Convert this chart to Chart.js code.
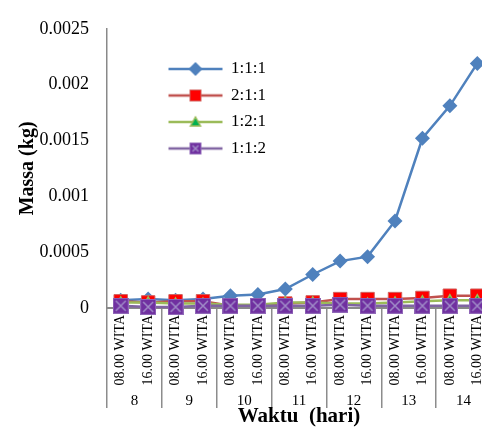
<!DOCTYPE html>
<html>
<head>
<meta charset="utf-8">
<script src="https://cdn.jsdelivr.net/npm/chart.js@4/dist/chart.umd.min.js"></script>
<style>
html,body{margin:0;padding:0;background:#fff;overflow:hidden;width:482px;height:427px}
</style>
</head>
<body>
<canvas id="mychart" width="500" height="427"></canvas>
<script>
// category labels
var jam  = ["08.00 WITA","16.00 WITA","08.00 WITA","16.00 WITA","08.00 WITA","16.00 WITA","08.00 WITA",
            "16.00 WITA","08.00 WITA","16.00 WITA","08.00 WITA","16.00 WITA","08.00 WITA","16.00 WITA"]
var hari = ["8","9","10","11","12","13","14"]

// series (kg)
var s111 = [0.00007,0.00008,0.00007,0.00008,0.00011,0.00012,0.00017,0.0003,0.00042,0.00046,0.00078,0.00152,0.00181,0.00219]
var s211 = [0.00006,0.00005,0.00006,0.00006,0.00002,0.00002,0.00004,0.00005,0.00008,0.00008,0.00008,0.00009,0.00011,0.00011]
var s121 = [0.00005,0.00005,0.00004,0.00004,0.00003,0.00003,0.00005,0.00005,0.00004,0.00004,0.00005,0.00006,0.00007,0.00007]
var s112 = [0.00002,0.00001,0.00001,0.00002,0.00002,0.00002,0.00002,0.00002,0.00003,0.00002,0.00002,0.00002,0.00002,0.00002]

var yMax = 0.0025
var yStep = 0.0005

var serif = "'Liberation Serif','Times New Roman',serif"

// purple square with a cross
function boxCross(size){
    var c = document.createElement('canvas')
    c.width = size; c.height = size
    var g = c.getContext('2d')
    g.fillStyle = '#7030A0'
    g.fillRect(0,0,size,size)
    g.strokeStyle = '#9068B8'
    g.lineWidth = 1
    g.strokeRect(0.5,0.5,size-1,size-1)
    g.strokeStyle = '#A08CC8'
    g.lineWidth = 1.5
    g.beginPath()
    g.moveTo(3,3); g.lineTo(size-3,size-3)
    g.moveTo(size-3,3); g.lineTo(3,size-3)
    g.stroke()
    return c
}

// legend sample: line with the marker in the middle
function legendIcon(color, kind){
    var c = document.createElement('canvas')
    c.width = 56; c.height = 16
    var g = c.getContext('2d')
    g.strokeStyle = color
    g.lineWidth = 2.5
    g.beginPath(); g.moveTo(1,8); g.lineTo(55,8); g.stroke()
    var x = 28, y = 8
    if(kind=='diamond'){
        g.fillStyle = '#4F81BD'
        g.beginPath(); g.moveTo(x,y-7); g.lineTo(x+7,y); g.lineTo(x,y+7); g.lineTo(x-7,y); g.closePath(); g.fill()
    } else if(kind=='square'){
        g.fillStyle = '#FF0000'
        g.fillRect(x-6,y-6,12,12)
        g.strokeStyle = '#D0605D'; g.lineWidth = 1
        g.strokeRect(x-5.5,y-5.5,11,11)
    } else if(kind=='triangle'){
        g.fillStyle = '#00B050'
        g.strokeStyle = '#9BBB59'; g.lineWidth = 1.5
        g.beginPath(); g.moveTo(x,y-5); g.lineTo(x+5,y+4); g.lineTo(x-5,y+4); g.closePath(); g.fill(); g.stroke()
    } else {
        g.drawImage(boxCross(12), x-6, y-6)
    }
    return c
}

var icons = [legendIcon('#4F81BD','diamond'), legendIcon('#C0504D','square'),
             legendIcon('#9BBB59','triangle'), legendIcon('#8064A2','box')]

// put the legend where it sits in the picture
var legendSpot = {
    id:'legendSpot',
    afterLayout:function(chart){
        var lg = chart.legend
        var w = lg.width, h = lg.height
        lg.left = 159; lg.top = 51
        lg.right = lg.left + w; lg.bottom = lg.top + h
    }
}

var mychart = document.getElementById("mychart").getContext('2d')

var chart = new Chart(mychart,{
    type:'line',
    data:{
        labels:jam,
        datasets:[
            {
                label:"1:1:1",
                data:s111,
                borderColor:"#4F81BD",
                backgroundColor:"#4F81BD",
                borderWidth:2.5,
                pointStyle:'rectRot',
                pointRadius:7.5,
                pointBorderWidth:0,
                order:4,
                clip:false
            },
            {
                label:"2:1:1",
                data:s211,
                borderColor:"#C0504D",
                backgroundColor:"#FF0000",
                pointBorderColor:"#D0605D",
                borderWidth:2.5,
                pointStyle:'rect',
                pointRadius:9.5,
                pointBorderWidth:1,
                order:3,
                clip:false
            },
            {
                label:"1:2:1",
                data:s121,
                borderColor:"#9BBB59",
                backgroundColor:"#00B050",
                pointBorderColor:"#9BBB59",
                borderWidth:2.5,
                pointStyle:'triangle',
                pointRadius:5.5,
                pointBorderWidth:1.5,
                order:2,
                clip:false
            },
            {
                label:"1:1:2",
                data:s112,
                borderColor:"#8064A2",
                backgroundColor:"#7030A0",
                borderWidth:2.5,
                pointStyle:boxCross(16),
                order:1,
                clip:false
            }
        ]
    },
    options:{
        responsive:false,
        animation:false,
        devicePixelRatio:1,
        layout:{autoPadding:false,padding:{left:16,top:20,right:9,bottom:0}},
        elements:{line:{tension:0}},
        plugins:{
            tooltip:{enabled:false},
            legend:{
                position:'chartArea',
                align:'start',
                labels:{
                    usePointStyle:true,
                    pointStyleWidth:54,
                    padding:9.5,
                    color:'#000',
                    font:{family:serif,size:17},
                    sort:function(a,b){ return a.datasetIndex-b.datasetIndex },
                    generateLabels:function(ch){
                        return ch.data.datasets.map(function(ds,i){
                            return {text:ds.label, pointStyle:icons[i], datasetIndex:i,
                                    fillStyle:'transparent', strokeStyle:'transparent', lineWidth:0, fontColor:'#000'}
                        })
                    }
                }
            }
        },
        scales:{
            x:{
                type:'category',
                offset:true,
                afterFit:function(s){ s.height = 80 },
                border:{display:true,color:'#898989',width:2},
                grid:{
                    offset:true,
                    drawOnChartArea:false,
                    tickLength:100,
                    lineWidth:1.5,
                    color:function(c){ return c.index%2==0 ? '#8C8C8C' : 'rgba(0,0,0,0)' }
                },
                ticks:{
                    autoSkip:false,
                    minRotation:90,
                    maxRotation:90,
                    padding:-93,
                    color:'#000',
                    font:{family:serif,size:14}
                }
            },
            x2:{
                type:'category',
                labels:hari,
                position:'bottom',
                offset:true,
                afterFit:function(s){ s.height = 39 },
                border:{display:false},
                grid:{display:false,drawTicks:false},
                ticks:{padding:4,color:'#000',font:{family:serif,size:15}},
                title:{
                    display:true,
                    text:'Waktu  (hari)',
                    color:'#000',
                    padding:{top:0,bottom:0},
                    font:{family:serif,size:21,weight:'bold',lineHeight:1}
                }
            },
            y:{
                min:0,
                max:yMax,
                afterFit:function(s){ s.width = 91 },
                border:{display:true,color:'#898989',width:1.5},
                grid:{display:false,drawTicks:false},
                ticks:{
                    stepSize:yStep,
                    padding:18,
                    color:'#000',
                    font:{family:serif,size:18},
                    callback:function(v){ return String(parseFloat(v.toFixed(4))) }
                },
                title:{
                    display:true,
                    text:'Massa (kg)',
                    color:'#000',
                    padding:{top:0,bottom:0},
                    font:{family:serif,size:20,weight:'bold',lineHeight:1.2}
                }
            }
        }
    },
    plugins:[legendSpot]
})
</script>
</body>
</html>
